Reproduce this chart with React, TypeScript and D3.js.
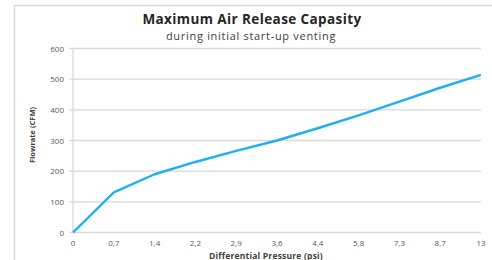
import React, { useEffect, useRef } from 'react';
import * as d3 from 'd3';

const pressureLabels = ['0', '0,7', '1,4', '2,2', '2,9', '3,6', '4,4', '5,8', '7,3', '8,7', '13'];
const flowrate = [0, 131, 190, 230, 266, 300, 340, 382, 427, 472, 514];
const yTicks = [0, 100, 200, 300, 400, 500, 600];

const App: React.FC = () => {
  const svgRef = useRef<SVGSVGElement>(null);

  useEffect(() => {
    if (!svgRef.current) return;
    const svg = d3.select(svgRef.current);
    svg.selectAll('*').remove();

    const width = 492;
    const height = 260;
    const font = '"Open Sans", sans-serif';

    // outer chart border
    svg.append('rect')
      .attr('x', 14.5).attr('y', 5.5)
      .attr('width', 500).attr('height', 300)
      .attr('fill', 'white')
      .attr('stroke', '#d9d9d9').attr('stroke-width', 1.5);

    const x = d3.scalePoint<string>()
      .domain(pressureLabels)
      .range([73, 481]);

    const y = d3.scaleLinear()
      .domain([0, 600])
      .range([232.5, 48.5]);

    // gridlines
    svg.append('g')
      .selectAll('line')
      .data(yTicks)
      .enter()
      .append('line')
      .attr('x1', 69)
      .attr('x2', 481)
      .attr('y1', d => y(d))
      .attr('y2', d => y(d))
      .attr('stroke', '#d9d9d9')
      .attr('stroke-width', 1.3);

    // vertical axis line
    svg.append('line')
      .attr('x1', 73).attr('x2', 73)
      .attr('y1', y(600)).attr('y2', y(0))
      .attr('stroke', '#d9d9d9').attr('stroke-width', 1.3);

    // y tick labels
    svg.append('g')
      .selectAll('text')
      .data(yTicks)
      .enter()
      .append('text')
      .attr('x', 64)
      .attr('y', d => y(d) + 3)
      .attr('text-anchor', 'end')
      .attr('font-family', font)
      .attr('font-size', 8)
      .attr('fill', '#595959')
      .text(d => d);

    // x tick labels
    svg.append('g')
      .selectAll('text')
      .data(pressureLabels)
      .enter()
      .append('text')
      .attr('x', d => x(d)!)
      .attr('y', 246)
      .attr('text-anchor', 'middle')
      .attr('font-family', font)
      .attr('font-size', 8)
      .attr('fill', '#595959')
      .text(d => d);

    // line
    const line = d3.line<number>()
      .x((_, i) => x(pressureLabels[i])!)
      .y(d => y(d));

    svg.append('path')
      .datum(flowrate)
      .attr('d', line)
      .attr('fill', 'none')
      .attr('stroke', '#1fb0ee')
      .attr('stroke-width', 2.4)
      .attr('stroke-linejoin', 'round');

    // titles
    svg.append('text')
      .attr('x', 252).attr('y', 24)
      .attr('text-anchor', 'middle')
      .attr('font-family', font)
      .attr('font-size', 13.5)
      .attr('font-weight', 'bold')
      .attr('letter-spacing', 0.4)
      .attr('fill', '#262626')
      .text('Maximum Air Release Capasity');

    svg.append('text')
      .attr('x', 251).attr('y', 40)
      .attr('text-anchor', 'middle')
      .attr('font-family', font)
      .attr('font-size', 11)
      .attr('letter-spacing', 0.7)
      .attr('fill', '#404040')
      .text('during initial start-up venting');

    svg.append('text')
      .attr('x', 266).attr('y', 259)
      .attr('text-anchor', 'middle')
      .attr('font-family', font)
      .attr('font-size', 8.5)
      .attr('font-weight', 'bold')
      .attr('letter-spacing', 0.2)
      .attr('fill', '#404040')
      .text('Differential Pressure (psi)');

    svg.append('text')
      .attr('transform', 'translate(35,135) rotate(-90)')
      .attr('text-anchor', 'middle')
      .attr('font-family', font)
      .attr('font-size', 7.5)
      .attr('font-weight', 'bold')
      .attr('fill', '#404040')
      .text('Flowrate (CFM)');

    svg.attr('width', width).attr('height', height);
  }, []);

  return (
    <div style={{ position: 'absolute', left: 0, top: 0 }}>
      <svg ref={svgRef} width={492} height={260} style={{ display: 'block', background: 'white' }}></svg>
    </div>
  );
};

export default App;
